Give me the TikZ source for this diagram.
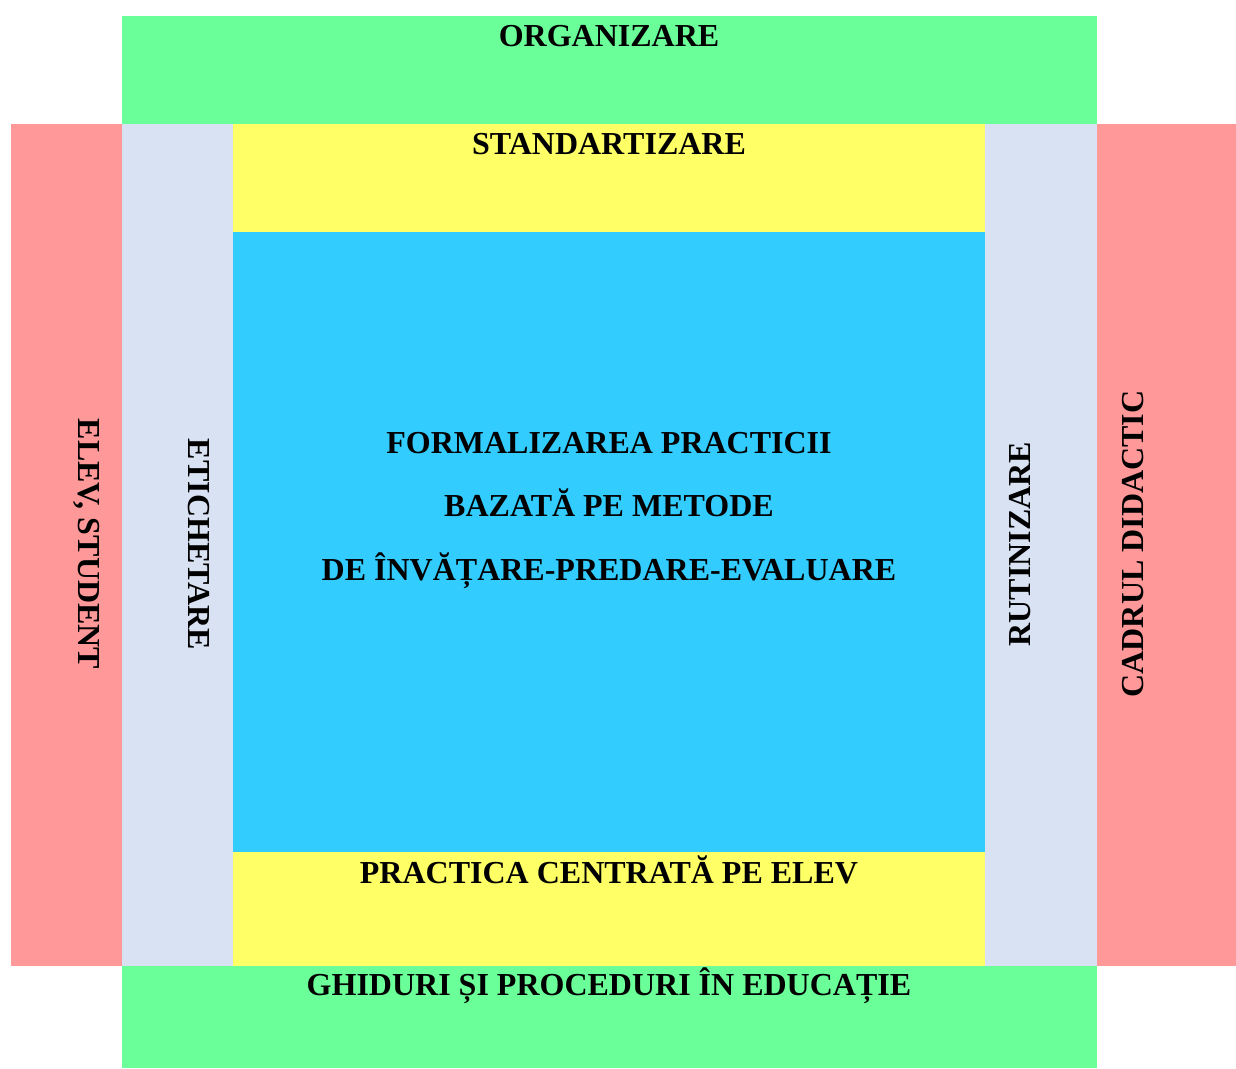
\documentclass[tikz,border=0pt]{standalone}
\usepackage{fontspec}
\setmainfont{Liberation Serif}
\definecolor{cgreen}{HTML}{6BFF99}
\definecolor{cred}{HTML}{FF9999}
\definecolor{cgrey}{HTML}{D9E2F3}
\definecolor{cyellow}{HTML}{FFFF66}
\definecolor{cblue}{HTML}{33CCFF}
\tikzset{
  lbl/.style={inner sep=0pt, anchor=base, font=\bfseries\fontsize{32}{32}\selectfont, text=black},
}
\begin{document}
\begin{tikzpicture}[x=1pt,y=-1pt]
\useasboundingbox (0,0) rectangle (1236,1068);
\fill[white] (0,0) rectangle (1236,1068);
% bands
\fill[cgreen] (122,16) rectangle (1097,124);
\fill[cgreen] (122,966) rectangle (1097,1068);
\fill[cred] (11,124) rectangle (122,966);
\fill[cred] (1097,124) rectangle (1236,966);
\fill[cgrey] (122,124) rectangle (233,966);
\fill[cgrey] (985,124) rectangle (1097,966);
\fill[cyellow] (233,124) rectangle (985,232);
\fill[cyellow] (233,852) rectangle (985,966);
\fill[cblue] (233,232) rectangle (985,852);
% labels
\node[lbl] (org) at (609,46.5) {ORGANIZARE};
\node[lbl] (std) at (609,154) {STANDARTIZARE};
\node[lbl] (f1) at (609,453) {FORMALIZAREA PRACTICII};
\node[lbl] (f2) at (609,516.5) {BAZATĂ PE METODE};
\node[lbl] (f3) at (609,580) {DE ÎNVĂȚARE-PREDARE-EVALUARE};
\node[lbl] (pce) at (609,883) {PRACTICA CENTRATĂ PE ELEV};
\node[lbl] (ghid) at (609,995) {GHIDURI ȘI PROCEDURI ÎN EDUCAȚIE};
\node[lbl, rotate=-90] (elev) at (78,544) {ELEV, STUDENT};
\node[lbl, rotate=-90] (etic) at (188.5,544.5) {ETICHETARE};
\node[lbl, rotate=90] (rut) at (1030.5,544) {RUTINIZARE};
\node[lbl, rotate=90] (cadru) at (1143,544) {CADRUL DIDACTIC};
\end{tikzpicture}
\end{document}
